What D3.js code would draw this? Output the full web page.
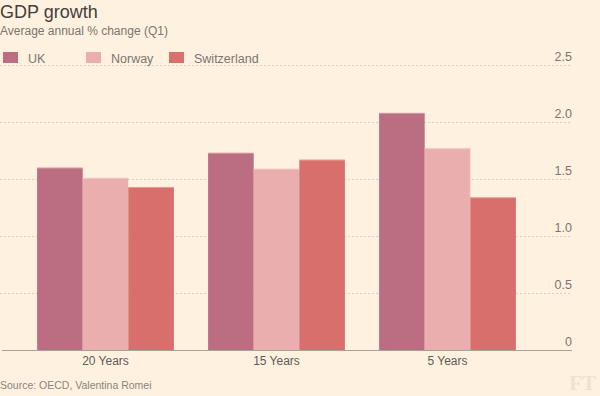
<!DOCTYPE html>
<html>
<head>
<meta charset="utf-8">
<script src="https://cdn.jsdelivr.net/npm/d3@7"></script>
<style>
  html, body { margin: 0; padding: 0; background: #fff1e0; }
  svg { display: block; font-family: "Liberation Sans", Arial, sans-serif; }
</style>
</head>
<body>
<div id="chart"></div>
<script>
// data
const categories = ["20 Years", "15 Years", "5 Years"];
const seriesNames = ["UK", "Norway", "Switzerland"];
const ukValues = [1.60, 1.73, 2.08];
const norwayValues = [1.51, 1.59, 1.77];
const switzerlandValues = [1.43, 1.67, 1.34];
const yTicks = [0, 0.5, 1.0, 1.5, 2.0, 2.5];
const colours = ["#bb6d82", "#eaaeae", "#d86f6c"];

const width = 600, height = 396;
const seriesValues = [ukValues, norwayValues, switzerlandValues];
const rows = categories.map((c, i) => ({
  cat: c,
  vals: seriesNames.map((s, j) => ({ name: s, value: seriesValues[j][i] }))
}));

const svg = d3.select("#chart").append("svg")
  .attr("width", width)
  .attr("height", height);

svg.append("rect").attr("width", width).attr("height", height).attr("fill", "#fff1e0");

// title + subtitle
svg.append("text").attr("x", 0).attr("y", 18)
  .attr("font-size", 18).attr("fill", "#43403c")
  .text("GDP growth");
svg.append("text").attr("x", 0).attr("y", 34.5)
  .attr("font-size", 12).attr("fill", "#7a7670")
  .text("Average annual % change (Q1)");

// scales
const x0 = d3.scaleBand().domain(categories).range([20, 533])
  .paddingInner(0.2).paddingOuter(0.1);
const x1 = d3.scaleBand().domain(seriesNames).range([0, x0.bandwidth()]);
const y = d3.scaleLinear().domain([0, 2.5]).range([350, 65]);
const colour = d3.scaleOrdinal().domain(seriesNames).range(colours);

// gridlines + y labels
const grid = svg.append("g");
grid.selectAll("line").data(yTicks.filter(d => d > 0)).enter().append("line")
  .attr("x1", 0).attr("x2", 572)
  .attr("y1", d => y(d) + 0.5).attr("y2", d => y(d) + 0.5)
  .attr("stroke", "#d9d0c6").attr("stroke-dasharray", "2,2");
grid.selectAll("text").data(yTicks).enter().append("text")
  .attr("x", 572).attr("y", d => y(d) - 4)
  .attr("text-anchor", "end").attr("font-size", 12.5).attr("fill", "#7a7670")
  .text(d => d === 0 ? "0" : d3.format(".1f")(d));

// legend
const legend = svg.append("g").selectAll("g").data(seriesNames).enter().append("g")
  .attr("transform", (d, i) => `translate(${3 + i * 83},52)`);
legend.append("rect").attr("width", 15).attr("height", 11).attr("fill", d => colour(d));
legend.append("text").attr("x", 25).attr("y", 10.5)
  .attr("font-size", 12.5).attr("fill", "#7a7670").text(d => d);

// bars
const groups = svg.append("g").selectAll("g").data(rows).enter().append("g")
  .attr("transform", d => `translate(${x0(d.cat)},0)`);
groups.selectAll("rect").data(d => d.vals).enter().append("rect")
  .attr("x", d => x1(d.name))
  .attr("width", x1.bandwidth())
  .attr("y", d => y(d.value))
  .attr("height", d => y(0) - y(d.value))
  .attr("fill", d => colour(d.name));
groups.selectAll("line.top").data(d => d.vals).enter().append("line")
  .attr("x1", d => x1(d.name)).attr("x2", d => x1(d.name) + x1.bandwidth())
  .attr("y1", d => y(d.value) + 0.5).attr("y2", d => y(d.value) + 0.5)
  .attr("stroke", "#fff1e0").attr("stroke-opacity", 0.35);

// baseline + x labels
svg.append("line").attr("x1", 2).attr("x2", 572)
  .attr("y1", 350.5).attr("y2", 350.5).attr("stroke", "#a8a29b");
const xAxis = svg.append("g").attr("transform", "translate(0,350)")
  .call(d3.axisBottom(x0).tickSize(0).tickPadding(6));
xAxis.select(".domain").remove();
xAxis.selectAll("text").attr("font-size", 12).attr("fill", "#5f5b56")
  .attr("font-family", "Liberation Sans, Arial, sans-serif");

// source + logo
svg.append("text").attr("x", 0).attr("y", 389)
  .attr("font-size", 10.5).attr("fill", "#8a857f")
  .text("Source: OECD, Valentina Romei");
svg.append("text").attr("x", 596).attr("y", 390)
  .attr("text-anchor", "end").attr("font-size", 21).attr("font-weight", "bold")
  .attr("font-family", "Liberation Serif, serif").attr("fill", "#efe2d2")
  .text("FT");
</script>
</body>
</html>
